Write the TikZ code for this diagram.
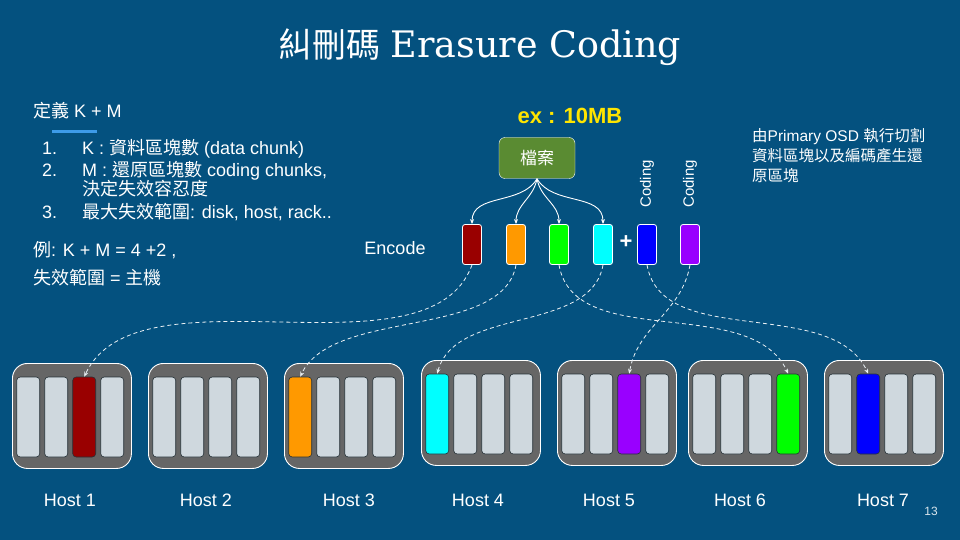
\documentclass[tikz,border=0pt]{standalone}
\usepackage{fontspec}
\setmainfont{Liberation Sans}
\newfontfamily\cjk{Noto Sans CJK TC}
\newfontfamily\slab{DejaVu Serif}
\usetikzlibrary{arrows.meta}
\newcommand{\txtsize}[1]{\fontsize{#1}{#1}\selectfont}
\definecolor{bg}{RGB}{4,81,127}
\definecolor{filegreen}{RGB}{90,139,50}
\definecolor{hostgray}{RGB}{102,102,102}
\definecolor{diskgray}{RGB}{207,216,222}
\definecolor{diskedge}{RGB}{38,50,56}
\definecolor{ecred}{RGB}{153,0,0}
\definecolor{ecorange}{RGB}{255,153,0}
\definecolor{ecgreen}{RGB}{0,255,0}
\definecolor{eccyan}{RGB}{0,255,255}
\definecolor{ecblue}{RGB}{0,0,255}
\definecolor{ecpurple}{RGB}{153,0,255}
\definecolor{underline}{RGB}{61,155,233}
\definecolor{exyellow}{RGB}{255,229,0}

\begin{document}
\begin{tikzpicture}[x=1pt,y=-1pt,
    txt/.style={text=white,inner sep=0pt},
    chunk/.style={draw=white,line width=0.8pt,rounded corners=2.5pt,minimum width=19pt,minimum height=40pt,inner sep=0pt},
    hostbox/.style={draw=white,line width=0.9pt,fill=hostgray,rounded corners=15pt,anchor=north west,inner sep=0pt,minimum width=119pt,minimum height=105pt},
    disk/.style={draw=diskedge,line width=0.6pt,rounded corners=3.5pt,minimum width=23pt,minimum height=80pt,inner sep=0pt},
    split/.style={->,white,line width=0.9pt,>={Stealth[length=5pt,width=4pt]}},
    place/.style={->,white!92!bg,dash pattern=on 4pt off 3pt,line width=0.8pt,>={Stealth[length=5pt,width=4pt]}}]
  \fill[bg] (0,0) rectangle (960,540);

  \node[txt,anchor=base,font=\txtsize{35}] (title) at (480,58) {{\cjk\txtsize{34}糾刪碼} {\slab\txtsize{36.5}Erasure Coding}};

  \node[txt,anchor=base west,font=\txtsize{18}] (def) at (33,118) {{\cjk 定義} K + M};
  \draw[underline,line width=3pt] (52,132) -- (97,132);
  \node[txt,anchor=base west,font=\txtsize{18}] (n1) at (42,155) {1.};
  \node[txt,anchor=base west,font=\txtsize{18}] (k)  at (82,155) {K : {\cjk 資料區塊數} (data chunk)};
  \node[txt,anchor=base west,font=\txtsize{18}] (n2) at (42,176) {2.};
  \node[txt,anchor=base west,font=\txtsize{18}] (m)  at (82,176) {M : {\cjk 還原區塊數} coding chunks,};
  \node[txt,anchor=base west,font=\txtsize{18}] (m2) at (82,196) {\cjk 決定失效容忍度};
  \node[txt,anchor=base west,font=\txtsize{18}] (n3) at (42,218) {3.};
  \node[txt,anchor=base west,font=\txtsize{18}] (r)  at (82,218) {{\cjk 最大失效範圍}: disk, host, rack..};
  \node[txt,anchor=base west,font=\txtsize{18}] (ex) at (33,256) {{\cjk 例}: K + M = 4 +2 ,};
  \node[txt,anchor=base west,font=\txtsize{18}] (fail) at (33,284) {{\cjk 失效範圍} = {\cjk 主機}};

  \node[txt,anchor=base west,font=\txtsize{15.5}] (p1) at (752,142) {{\cjk 由}Primary OSD {\cjk 執行切割}};
  \node[txt,anchor=base west,font=\cjk\txtsize{15.5}] (p2) at (752,162) {資料區塊以及編碼產生還};
  \node[txt,anchor=base west,font=\cjk\txtsize{15.5}] (p3) at (752,182) {原區塊};

  \node[inner sep=0pt,text=exyellow,font=\bfseries\txtsize{22}] (size) at (570,116) {ex : 10MB};
  \node[draw=white,fill=filegreen,rounded corners=6pt,minimum width=76pt,minimum height=41pt,
        text=white,font=\cjk\txtsize{17}] (f) at (537,158) {檔案};

  \foreach \i/\x/\c in {1/472/ecred,2/516/ecorange,3/559/ecgreen,4/603/eccyan,5/647/ecblue,6/690/ecpurple}
    \node[chunk,fill=\c] (c\i) at (\x,244.5) {};
  \node[txt,font=\txtsize{18}] (enc) at (395,248) {Encode};
  \node[txt,font=\bfseries\txtsize{22}] (plus) at (626,242) {+};
  \node[txt,rotate=90,font=\txtsize{15}] (cod1) at (647,184) {Coding};
  \node[txt,rotate=90,font=\txtsize{15}] (cod2) at (690,184) {Coding};

  \foreach \i/\o in {1/-120,2/-100,3/-80,4/-60}
    \draw[split] (f.south) to[out=\o,in=90] (c\i.north);

  \foreach \h/\x/\y/\k/\c in {1/12/363/3/ecred,2/148/363/0/diskgray,3/284/363/1/ecorange,4/421/360/1/eccyan,
                              5/557/360/3/ecpurple,6/688/360/4/ecgreen,7/824/360/2/ecblue} {
    \node[hostbox] (h\h) at (\x,\y) {};
    \foreach \d in {1,...,4} {
      \ifnum\d=\k \def\fc{\c}\else\def\fc{diskgray}\fi
      \node[disk,fill=\fc] (d\h\d) at (\x+16.2+28*\d-28,\y+54) {};
    }
  }
  \foreach \h/\x in {1/70,2/206,3/349,4/478,5/609,6/740,7/883}
    \node[txt,font=\txtsize{18}] (l\h) at (\x,500) {Host \h};
  \node[txt,text=white!85!bg,font=\txtsize{12}] (pg) at (931,511) {13};

  \draw[place] (c1.south) to[out=-110,in=65,looseness=0.8] (d13.north);
  \draw[place] (c2.south) to[out=-100,in=65,looseness=0.8] (d31.north);
  \draw[place] (c3.south) to[out=-80,in=115,looseness=0.9] (d64.north);
  \draw[place] (c4.south) to[out=-100,in=75,looseness=0.9] (d41.north);
  \draw[place] (c5.south) to[out=-80,in=115,looseness=0.9] (d72.north);
  \draw[place] (c6.south) to[out=-100,in=80] (d53.north);
\end{tikzpicture}
\end{document}
